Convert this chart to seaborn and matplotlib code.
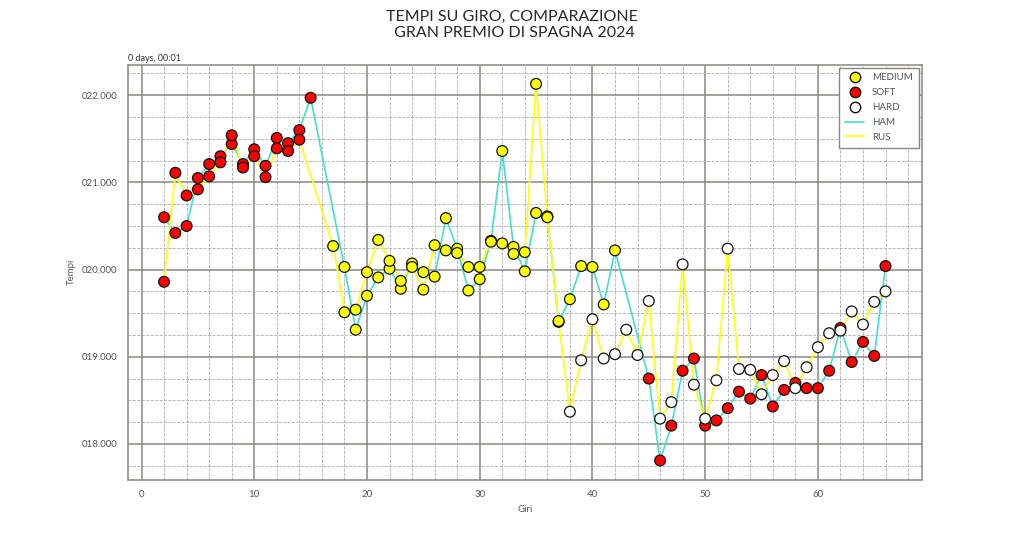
import matplotlib
matplotlib.use('Agg')
import matplotlib.pyplot as plt
from matplotlib.ticker import MultipleLocator, FuncFormatter
from matplotlib.lines import Line2D
import pandas as pd
import seaborn as sns

# Hamilton: lap numbers, lap times (s) and tyre compound
HAM_LAPS = list(range(2, 16)) + list(range(18, 43)) + list(range(45, 67))
HAM_TIMES = [80.60, 80.42, 80.50, 81.05, 81.21, 81.30, 81.44, 81.21, 81.38, 81.19,
             81.51, 81.45, 81.60, 81.97,
             80.03, 79.31, 79.70, 79.91, 80.01, 79.78, 80.07, 79.97, 79.92, 80.59,
             80.24, 79.76, 79.89, 80.33, 81.36, 80.26, 79.98, 80.65, 80.61, 79.40,
             79.66, 80.04, 80.03, 79.60, 80.22,
             78.75, 77.81, 78.21, 78.84, 78.98, 78.21, 78.27, 78.41, 78.60, 78.52,
             78.79, 78.43, 78.62, 78.70, 78.64, 78.64, 78.84, 79.33, 78.94, 79.17,
             79.01, 80.04]
HAM_COMPOUND = ['SOFT'] * 14 + ['MEDIUM'] * 25 + ['SOFT'] * 22

# Russell
RUS_LAPS = list(range(2, 15)) + list(range(17, 67))
RUS_TIMES = [79.86, 81.11, 80.85, 80.92, 81.07, 81.23, 81.54, 81.17, 81.30, 81.06,
             81.39, 81.36, 81.49,
             80.27, 79.51, 79.54, 79.97, 80.34, 80.10, 79.87, 80.03, 79.77, 80.28,
             80.22, 80.19, 80.03, 80.03, 80.32, 80.30, 80.18, 80.20, 82.13, 80.60,
             79.41,
             78.37, 78.96, 79.43, 78.98, 79.03, 79.31, 79.02, 79.64, 78.29, 78.48,
             80.06, 78.68, 78.29, 78.73, 80.24, 78.86, 78.85, 78.57, 78.79, 78.95,
             78.64, 78.88, 79.11, 79.27, 79.30, 79.52, 79.37, 79.63, 79.75]
RUS_COMPOUND = ['SOFT'] * 13 + ['MEDIUM'] * 21 + ['HARD'] * 29

COMPOUNDS = ['MEDIUM', 'SOFT', 'HARD']
COMPOUND_COLORS = {'MEDIUM': '#ffff00', 'SOFT': '#ff0000', 'HARD': '#ffffff'}
DRIVER_COLORS = {'HAM': '#40e0d0', 'RUS': '#ffff00'}

ham = pd.DataFrame({'Lap': HAM_LAPS, 'Time': HAM_TIMES, 'Compound': HAM_COMPOUND})
ham['Driver'] = 'HAM'
rus = pd.DataFrame({'Lap': RUS_LAPS, 'Time': RUS_TIMES, 'Compound': RUS_COMPOUND})
rus['Driver'] = 'RUS'
df = pd.concat([ham, rus], ignore_index=True)

sns.set_style('white')
plt.rcParams['font.family'] = ['Lato', 'DejaVu Sans']

fig, ax = plt.subplots(figsize=(10.24, 5.39), dpi=100)

sns.lineplot(data=df, x='Lap', y='Time', hue='Driver', palette=DRIVER_COLORS,
             estimator=None, linewidth=1.2, legend=False, ax=ax, zorder=2)
sns.scatterplot(data=df, x='Lap', y='Time', hue='Compound', hue_order=COMPOUNDS,
                palette=COMPOUND_COLORS, s=60, edgecolor='#111111', linewidth=0.9,
                legend=False, ax=ax, zorder=3)

ax.set_xlim(-1.2, 69.2)
ax.set_ylim(77.59, 82.35)
ax.xaxis.set_major_locator(MultipleLocator(10))
ax.xaxis.set_minor_locator(MultipleLocator(2))
ax.yaxis.set_major_locator(MultipleLocator(1))
ax.yaxis.set_minor_locator(MultipleLocator(0.25))
ax.yaxis.set_major_formatter(FuncFormatter(lambda v, p: f'0{v - 60:06.3f}'))

ax.grid(which='major', color='#8a8683', linestyle='-', linewidth=1.1, zorder=0)
ax.grid(which='minor', color='#ababab', linestyle='--', linewidth=0.6, zorder=0)
ax.set_axisbelow(True)
for sp in ax.spines.values():
    sp.set_color('#8a8683')
    sp.set_linewidth(1.1)
ax.tick_params(which='major', length=4, color='#8a8683', labelsize=7, labelcolor='#555555')
ax.tick_params(which='minor', length=0)

ax.set_xlabel('Giri', fontsize=7, color='#555555')
ax.set_ylabel('Tempi', fontsize=7, color='#555555')
ax.text(0, 1.004, '0 days, 00:01', transform=ax.transAxes, fontsize=6.5,
        color='#333333', va='bottom', ha='left')

fig.suptitle('TEMPI SU GIRO, COMPARAZIONE\n GRAN PREMIO DI SPAGNA 2024', fontsize=11.5,
             y=0.982)

handles = [Line2D([], [], marker='o', linestyle='', markerfacecolor=COMPOUND_COLORS[c],
                  markeredgecolor='#111111', markersize=7.5, label=c) for c in COMPOUNDS]
handles += [Line2D([], [], color=DRIVER_COLORS[d], linewidth=1.2, label=d) for d in ['HAM', 'RUS']]
leg = ax.legend(handles=handles, loc='upper right', fontsize=7, fancybox=False,
                edgecolor='#8a8683', framealpha=1, borderpad=0.6, labelspacing=0.6,
                borderaxespad=0.3)
for t in leg.get_texts():
    t.set_color('#555555')

plt.savefig('out.png', dpi=100)
